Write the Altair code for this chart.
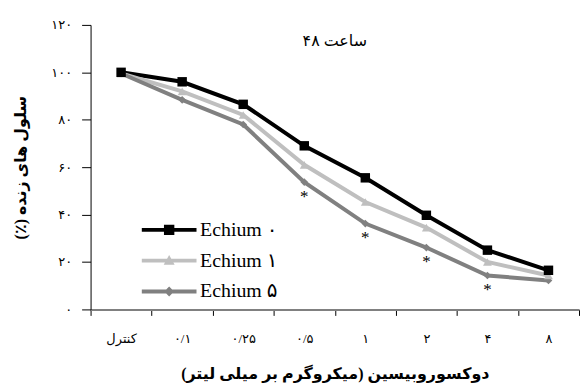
import altair as alt
import pandas as pd

categories = ["کنترل", "۰/۱", "۰/۲۵", "۰/۵", "۱", "۲", "۴", "۸"]
series_names = ["Echium ۰", "Echium ۱", "Echium ۵"]
echium0 = [100, 96, 86.5, 69, 55.5, 39.7, 25, 16.5]
echium1 = [99.5, 92, 82, 61, 45.3, 34.5, 20, 14.3]
echium5 = [99.5, 88.4, 78, 53.7, 36.2, 26.1, 14.3, 12.2]
echium5_star = ["", "", "", "*", "*", "*", "*", ""]
series_colors = ["#000000", "#BFBFBF", "#808080"]
series_shapes = ["square", "triangle-up", "diamond"]
series_sizes = [90, 80, 60]
y_ticks = [0, 20, 40, 60, 80, 100, 120]
y_tick_labels = ["۰", "۲۰", "۴۰", "۶۰", "۸۰", "۱۰۰", "۱۲۰"]
title_text = "ساعت  ۴۸"
x_title = "دوکسوروبیسین (میکروگرم بر میلی لیتر)\u200F"
y_title = "سلول های زنده (٪)\u200F"

# legend symbols: a thick line with the marker on it
legend_paths = [
    "M-2,-0.14H2V0.14H-2Z M-0.38,-0.38H0.38V0.38H-0.38Z",
    "M-2,-0.14H2V0.14H-2Z M0,-0.42L0.4,0.3H-0.4Z",
    "M-2,-0.14H2V0.14H-2Z M0,-0.36L0.36,0L0,0.36L-0.36,0Z",
]

rows = []
all_values = [echium0, echium1, echium5]
draw_order = [3, 2, 1]
for s, vals, o in zip(series_names, all_values, draw_order):
    for i, (c, v) in enumerate(zip(categories, vals)):
        star = echium5_star[i] if s == series_names[2] else ""
        rows.append({"series": s, "category": c, "value": v, "order": o, "idx": i, "star": star})
df = pd.DataFrame(rows)

label_expr = " : ".join(
    f"datum.value == {v} ? '{l}'" for v, l in zip(y_ticks, y_tick_labels)
) + " : ''"

FONT = "Liberation Serif, DejaVu Sans"

x_enc = alt.X(
    "category:N",
    sort=categories,
    bandPosition=0.5,
    scale=alt.Scale(type="band", paddingInner=0, paddingOuter=0),
    axis=alt.Axis(
        title=x_title,
        tickBand="extent",
        labelAngle=0,
        domainColor="#808080",
        domainWidth=2,
        tickColor="#000000",
        tickSize=6,
        labelPadding=17,
        labelFontSize=13,
        labelFont=FONT,
        labelColor="#000000",
        titleFontSize=16,
        titleFontWeight="bold",
        titleFont=FONT,
        titleColor="#000000",
        titlePadding=20,
    ),
)
y_enc = alt.Y(
    "value:Q",
    scale=alt.Scale(domain=[0, 120]),
    axis=alt.Axis(
        title=y_title,
        values=y_ticks,
        labelExpr=label_expr,
        grid=False,
        domainColor="#000000",
        tickColor="#000000",
        tickSize=9,
        labelPadding=10,
        labelFontSize=13,
        labelFont=FONT,
        labelColor="#000000",
        titleFontSize=16,
        titleFontWeight="bold",
        titleFont=FONT,
        titleColor="#000000",
        titlePadding=22,
    ),
)

color_scale = alt.Scale(domain=series_names, range=series_colors)

base = alt.Chart(df)

lines = base.mark_line(strokeWidth=4).encode(
    x=x_enc,
    y=y_enc,
    color=alt.Color("series:N", scale=color_scale, legend=None),
    order=alt.Order("idx:Q"),
    detail="order:O",
)

point_layers = []
for s, sh, sz in reversed(list(zip(series_names, series_shapes, series_sizes))):
    point_layers.append(
        base.transform_filter(alt.datum.series == s)
        .mark_point(filled=True, opacity=1, shape=sh, size=sz)
        .encode(
            x=x_enc,
            y=y_enc,
            color=alt.Color("series:N", scale=color_scale, legend=None),
        )
    )

stars = base.transform_filter(alt.datum.star != "").mark_text(
    dy=15, fontSize=17, font=FONT, color="#000000", fill="#000000"
).encode(x=x_enc, y=y_enc, text="star:N")

legend_props = dict(
    title=None,
    orient="none",
    legendX=65,
    legendY=192,
    symbolSize=756,
    symbolOpacity=1,
    symbolStrokeWidth=0,
    labelOffset=17,
    labelFontSize=20,
    labelFont=FONT,
    labelColor="#000000",
    rowPadding=7,
)

legend_layer = base.mark_point(filled=True, opacity=0).encode(
    x=x_enc,
    y=y_enc,
    color=alt.Color("series:N", scale=color_scale, legend=alt.Legend(**legend_props)),
    shape=alt.Shape(
        "series:N",
        scale=alt.Scale(domain=series_names, range=legend_paths),
        legend=alt.Legend(**legend_props),
    ),
)

chart = (
    alt.layer(lines, *point_layers, stars, legend_layer)
    .resolve_scale(shape="independent")
    .resolve_legend(shape="independent", color="independent")
    .properties(
        width=491,
        height=286,
        padding={"left": 5, "top": 10, "right": 0, "bottom": 5},
        title=alt.TitleParams(
            title_text, fontSize=16, fontWeight="normal", font=FONT, color="#000000",
            anchor="middle", offset=-30,
        ),
    )
    .configure_view(stroke=None)
)

chart.save("out.html", embed_options={"renderer": "svg", "actions": False})
